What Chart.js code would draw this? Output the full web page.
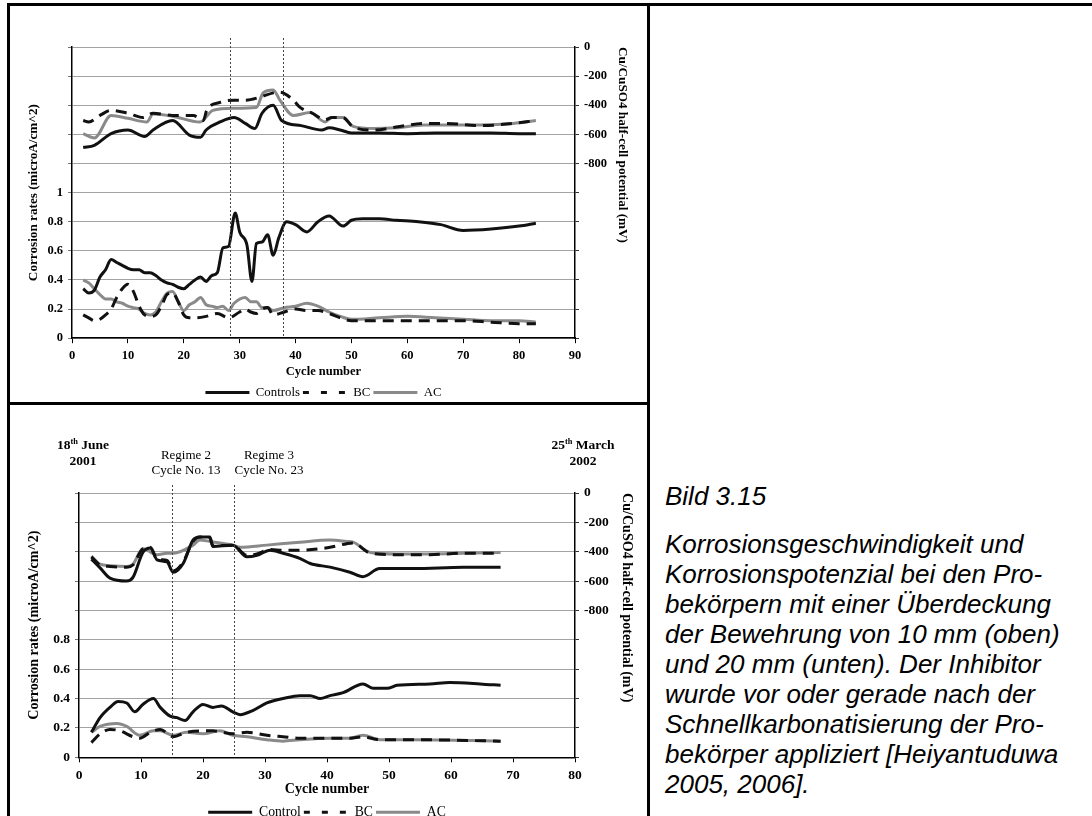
<!DOCTYPE html>
<html lang="de">
<head>
  <meta charset="UTF-8" />
  <title>Bild 3.15 – Korrosionsgeschwindigkeit und Korrosionspotenzial</title>
  <script src="https://cdn.jsdelivr.net/npm/chart.js@4"></script>
  <style>
    html, body {
      margin: 0;
      padding: 0;
      background: #fff;
      overflow: hidden;
    }
    body {
      position: relative;
      width: 1092px;
      height: 816px;
    }
    .rule {
      position: absolute;
      background: #000;
      z-index: 2;
    }
    .box {
      position: absolute;
      left: 10px;
      width: 636px;
    }
    #caption {
      position: absolute;
      left: 665px;
      top: 481px;
      font-family: 'Liberation Sans', Arial, sans-serif;
      font-style: italic;
      font-size: 26px;
      line-height: 30px;
      color: #000;
      white-space: nowrap;
    }
    #caption p { margin: 0; }
    #caption p + p { margin-top: 18px; }
  </style>
</head>
<body>
  <div class="rule" style="left:7px; top:3px; width:1085px; height:3px;"></div>
  <div class="rule" style="left:7px; top:3px; width:3px; height:813px;"></div>
  <div class="rule" style="left:647px; top:3px; width:3px; height:813px;"></div>
  <div class="rule" style="left:7px; top:402px; width:643px; height:3px;"></div>

  <div class="box" style="top:7px; height:402px;"><canvas id="topChart"></canvas></div>
  <div class="box" style="top:405px; height:424px;"><canvas id="bottomChart"></canvas></div>

  <div id="caption">
    <p>Bild 3.15</p>
    <p>Korrosionsgeschwindigkeit und<br>
       Korrosionspotenzial bei den Pro-<br>
       bekörpern mit einer Überdeckung<br>
       der Bewehrung von 10 mm (oben)<br>
       und 20 mm (unten). Der Inhibitor<br>
       wurde vor oder gerade nach der<br>
       Schnellkarbonatisierung der Pro-<br>
       bekörper appliziert [Heiyantuduwa<br>
       2005, 2006].</p>
  </div>

  <script>
    // ---- top chart (10 mm cover) ----
    const topRegimeCycles = [28.3, 37.8];

    const topCtrlRateX = [2,3,4,5,6,7,8,9,10,11,12,13,14,15,16,17,18,19,20,21,22,23,24,25,26,27,28,29.2,30,31.3,32.2,33,34,35,36,37,38.4,40,42,44,46,48.5,50,52,55,58,62,66,70,75,80,83];
    const topCtrlRate  = [0.34,0.31,0.33,0.42,0.47,0.54,0.52,0.50,0.48,0.47,0.47,0.45,0.45,0.43,0.40,0.38,0.37,0.35,0.34,0.37,0.40,0.42,0.39,0.43,0.45,0.62,0.63,0.86,0.73,0.64,0.39,0.65,0.66,0.71,0.57,0.69,0.80,0.78,0.73,0.80,0.84,0.77,0.81,0.82,0.82,0.81,0.80,0.78,0.74,0.75,0.77,0.79];

    const topBcRateX = [2,3,4,5,6,7,8,9,10,11,12,13,14,15,16,17,18,19,20,21,22,24,26,28,30,31,32,33,34,35,36,38,40,42,44,46,48,50,55,60,65,70,75,80,83];
    const topBcRate  = [0.16,0.14,0.12,0.13,0.16,0.20,0.28,0.34,0.37,0.32,0.22,0.16,0.15,0.16,0.22,0.30,0.31,0.25,0.16,0.14,0.14,0.15,0.17,0.14,0.18,0.20,0.18,0.17,0.20,0.21,0.16,0.18,0.20,0.19,0.19,0.17,0.14,0.12,0.12,0.12,0.12,0.12,0.11,0.10,0.10];

    const topAcRateX = [2,3,4,5,6,7,8,9,10,11,12,13,14,15,16,17,18,19,20,21,22,23,24,25,26,27,28,29,31,32,33,34,35,36,38,40,42,44,46,48,50,55,60,65,70,75,80,83];
    const topAcRate  = [0.40,0.38,0.34,0.30,0.27,0.27,0.25,0.24,0.22,0.21,0.20,0.17,0.16,0.18,0.25,0.31,0.32,0.25,0.19,0.23,0.25,0.28,0.23,0.22,0.21,0.22,0.19,0.24,0.28,0.25,0.25,0.21,0.21,0.19,0.21,0.22,0.24,0.22,0.18,0.15,0.13,0.14,0.15,0.14,0.13,0.12,0.12,0.11];

    const topCtrlPotX = [2,4,7,10,13,14.5,18,21,23,24,26.5,29,31,32.7,34,36,37.5,41,44.7,46,48,50,55,60,65,70,75,80,83];
    const topCtrlPot  = [-690,-675,-595,-570,-615,-570,-505,-605,-620,-570,-515,-485,-525,-560,-455,-400,-505,-540,-570,-555,-570,-590,-590,-595,-590,-590,-590,-595,-595];

    const topBcPotX = [2,3,5,7,10,12.7,14.5,18,21.7,23.5,24.1,26.5,29,31,33.6,36,37.2,39.6,40.8,43,45.3,46.5,48.5,50.3,54,58,63,67,73,79,83];
    const topBcPot  = [-505,-515,-470,-435,-455,-485,-455,-470,-470,-505,-435,-380,-365,-365,-345,-315,-310,-365,-415,-455,-500,-485,-485,-550,-570,-550,-525,-525,-540,-525,-505];

    const topAcPotX = [2,4,7,10,13.4,14.5,18,22.9,25.2,28.8,33,34.2,36,37.2,39.6,42.6,45.3,46.5,48.5,50.3,54,58,63,67,73,79,83];
    const topAcPot  = [-595,-625,-470,-490,-515,-460,-475,-515,-435,-420,-415,-315,-295,-365,-470,-450,-515,-485,-485,-545,-560,-555,-535,-535,-535,-525,-505];

    // ---- bottom chart (20 mm cover) ----
    const botRegimeCycles = [15, 25];
    const regimeNames = ['Regime 2', 'Regime 3'];
    const regimeCycleText = ['Cycle No. 13', 'Cycle No. 23'];
    const startDate = ['18', 'th', ' June', '2001'];
    const endDate = ['25', 'th', ' March', '2002'];

    const botCtrlRateX = [2,3.4,5,6.3,7.7,9,10.3,12,13.1,14.7,15.8,17.1,18.4,20,21.6,23,24.8,26,28.1,30.3,32.9,35.6,37.3,38.9,40.5,42.6,45.8,47.4,49.7,51.3,56.6,59.8,64.7,68];
    const botCtrlRate  = [0.17,0.27,0.34,0.38,0.37,0.31,0.36,0.40,0.34,0.28,0.27,0.25,0.31,0.36,0.34,0.35,0.31,0.29,0.32,0.37,0.40,0.42,0.42,0.40,0.42,0.44,0.50,0.47,0.47,0.49,0.50,0.51,0.50,0.49];

    const botBcRateX = [2,3.4,5,6.6,8.7,9.8,11.5,13.1,15.2,17.3,19.5,21.6,24.8,27.1,30.3,32.9,35.6,40.5,43.7,45.8,48.5,54,68];
    const botBcRate  = [0.10,0.16,0.19,0.18,0.14,0.13,0.17,0.19,0.14,0.17,0.18,0.18,0.16,0.17,0.15,0.14,0.13,0.13,0.13,0.14,0.12,0.12,0.11];

    const botAcRateX = [2,3.4,6.1,7.7,9.8,12,13.1,15.2,17.3,20,22.7,24.8,27.1,30.3,32.9,35.6,40.5,43.7,45.8,48.5,54,68];
    const botAcRate  = [0.17,0.21,0.23,0.21,0.15,0.18,0.18,0.15,0.17,0.16,0.18,0.15,0.14,0.12,0.11,0.12,0.13,0.13,0.15,0.12,0.12,0.11];

    const botCtrlPotX = [2,3.4,5,7.7,8.7,10.3,11.5,12.6,14.2,15.2,16.8,18.4,19.5,21.1,21.6,24.8,27.1,28.7,30.8,32.9,35.6,37.3,40.5,43.7,45.8,48.5,54,62,68];
    const botCtrlPot  = [-450,-510,-580,-600,-575,-405,-375,-455,-470,-540,-480,-320,-300,-300,-365,-355,-435,-425,-390,-410,-445,-480,-505,-540,-570,-515,-515,-505,-505];

    const botBcPotX = [2,3.4,5,7.7,8.7,10.3,11.5,12.6,14.2,15.2,16.8,18.4,19.5,21.1,21.6,24.8,27.1,28.7,30.8,32.9,35.6,40.5,43.2,44.2,47,51.3,56.6,62,68];
    const botBcPot  = [-435,-490,-500,-505,-490,-380,-370,-450,-460,-530,-470,-330,-300,-305,-360,-355,-425,-415,-385,-390,-390,-370,-345,-340,-410,-420,-420,-410,-410];

    const botAcPotX = [2,3.4,5,7.7,8.7,10.3,12.6,14.2,15.2,18.4,19.5,21.1,24.8,26,30.3,35.6,40.5,43.2,44.2,47,51.3,56.6,62,68];
    const botAcPot  = [-430,-485,-495,-500,-485,-380,-420,-410,-410,-355,-320,-330,-355,-370,-355,-335,-320,-330,-335,-405,-415,-415,-410,-405];

    const SERIF = "'Liberation Serif', 'Times New Roman', serif";

    const CTRL = { borderColor: '#111', borderWidth: 3 };
    const BC = { borderColor: '#111', borderWidth: 3, borderDash: [11, 7] };
    const AC = { borderColor: '#8a8a8a', borderWidth: 3 };

    function series(label, xs, ys, axis, style) {
      return Object.assign({
        label: label,
        data: xs.map((x, i) => ({ x: x, y: ys[i] })),
        yAxisID: axis,
        pointRadius: 0,
        cubicInterpolationMode: 'monotone',
        fill: false
      }, style);
    }

    // legend samples take the dataset's line style (the default uses the point style)
    function legendLabels(chart) {
      const items = Chart.defaults.plugins.legend.labels.generateLabels(chart);
      return items.map(it => {
        const ds = chart.data.datasets[it.datasetIndex];
        it.strokeStyle = ds.borderColor;
        it.lineWidth = ds.borderWidth;
        it.lineDash = ds.borderDash ? [6, 12] : [];
        return it;
      });
    }

    // dotted regime lines, drawn a bit above the plot area like the original
    const regimeLines = {
      id: 'regimeLines',
      afterDatasetsDraw(chart, args, opts) {
        const { ctx, chartArea, scales } = chart;
        ctx.save();
        ctx.strokeStyle = '#444';
        ctx.lineWidth = 1;
        ctx.setLineDash([2, 2]);
        opts.cycles.forEach(c => {
          const x = Math.round(scales.x.getPixelForValue(c)) + 0.5;
          ctx.beginPath();
          ctx.moveTo(x, opts.top);
          ctx.lineTo(x, chartArea.bottom);
          ctx.stroke();
        });
        ctx.restore();
      }
    };

    // header notes of the lower chart (dates, regimes)
    const headerText = {
      id: 'headerText',
      afterDraw(chart, args, opts) {
        if (!opts.items) return;
        const { ctx } = chart;
        ctx.save();
        ctx.fillStyle = '#000';
        ctx.textBaseline = 'alphabetic';
        opts.items.forEach(item => {
          item.lines.forEach((parts, li) => {
            let total = 0;
            parts.forEach(p => {
              ctx.font = (item.bold ? 'bold ' : '') + (p.sup ? item.size * 0.62 : item.size) + 'px ' + SERIF;
              p.w = ctx.measureText(p.t).width;
              total += p.w;
            });
            let x = item.x - total / 2;
            const y = item.y + li * item.lh;
            parts.forEach(p => {
              ctx.font = (item.bold ? 'bold ' : '') + (p.sup ? item.size * 0.62 : item.size) + 'px ' + SERIF;
              ctx.fillText(p.t, x, p.sup ? y - item.size * 0.38 : y);
              x += p.w;
            });
          });
        });
        ctx.restore();
      }
    };

    function makeOptions(o) {
      return {
        responsive: true,
        maintainAspectRatio: false,
        animation: false,
        layout: { padding: { top: o.padTop, left: 16, right: o.padRight, bottom: 0 } },
        plugins: {
          legend: {
            position: 'bottom',
            fullSize: false,
            labels: {
              usePointStyle: true,
              pointStyle: 'line',
              pointStyleWidth: 44,
              padding: 3,
              color: '#000',
              font: { family: SERIF, size: o.legend },
              generateLabels: legendLabels,
              filter: item => item.datasetIndex < 3
            }
          },
          tooltip: { enabled: false },
          regimeLines: { cycles: o.regimes, top: o.lineTop },
          headerText: { items: o.header }
        },
        scales: {
          x: {
            type: 'linear',
            min: 0,
            max: o.xMax,
            afterFit: s => { s.height = 45; },
            ticks: { stepSize: 10, color: '#000', padding: 5, font: { family: SERIF, weight: 'bold', size: o.tick } },
            grid: { drawOnChartArea: false, tickLength: 5, tickColor: '#000' },
            border: { color: '#000', width: 1.5 },
            title: {
              display: true, text: 'Cycle number', color: '#000',
              font: { family: SERIF, weight: 'bold', size: o.xTitle },
              padding: { top: 0, bottom: o.xTitlePad }
            }
          },
          y: {
            position: 'left',
            min: 0,
            max: o.rateMax,
            afterFit: s => { s.width = o.leftW; },
            ticks: {
              stepSize: 0.2, color: '#000', padding: 5,
              font: { family: SERIF, weight: 'bold', size: o.tick },
              callback: v => v <= o.rateShow + 1e-6 ? String(Math.round(v * 10) / 10) : ''
            },
            grid: { color: '#a3a3a3', lineWidth: 1, tickLength: 4, tickColor: '#777' },
            border: { color: '#000', width: 1.5 },
            title: {
              display: true, text: 'Corrosion rates (microA/cm^2)', color: '#000',
              font: { family: SERIF, weight: 'bold', size: o.yTitle },
              padding: { top: 0, bottom: 0 }
            }
          },
          y2: {
            position: 'right',
            min: o.potMin,
            max: 0,
            afterFit: s => { s.width = o.rightW; },
            ticks: {
              stepSize: 200, color: '#000', padding: 5,
              font: { family: SERIF, weight: 'bold', size: o.tick },
              callback: v => v >= -800 ? String(Math.round(v)) : ''
            },
            grid: { drawOnChartArea: false, tickLength: 4, tickColor: '#333' },
            border: { color: '#000', width: 1.5 },
            title: {
              display: true, align: 'end', text: 'Cu/CuSO4 half-cell potential (mV)', color: '#000',
              font: { family: SERIF, weight: 'bold', size: o.yTitle },
              padding: { top: 0, bottom: 0 }
            }
          }
        }
      };
    }

    new Chart(document.getElementById('topChart'), {
      type: 'line',
      data: {
        datasets: [
          series('Controls', topCtrlRateX, topCtrlRate, 'y', CTRL),
          series('BC', topBcRateX, topBcRate, 'y', BC),
          series('AC', topAcRateX, topAcRate, 'y', AC),
          series('Controls', topCtrlPotX, topCtrlPot, 'y2', CTRL),
          series('BC', topBcPotX, topBcPot, 'y2', BC),
          series('AC', topAcPotX, topAcPot, 'y2', AC)
        ]
      },
      options: makeOptions({
        padTop: 40, padRight: 15.5, leftW: 46, rightW: 55.5,
        xMax: 90, rateMax: 2, rateShow: 1, potMin: -2000,
        tick: 12.5, xTitle: 12.5, xTitlePad: 4, yTitle: 13.2, legend: 12.8,
        regimes: topRegimeCycles, lineTop: 31, header: null
      }),
      plugins: [regimeLines, headerText]
    });

    const headerItems = [
      { x: 73, y: 44, lh: 16, size: 13.5, bold: true,
        lines: [[{ t: startDate[0] }, { t: startDate[1], sup: true }, { t: startDate[2] }], [{ t: startDate[3] }]] },
      { x: 573, y: 44, lh: 16, size: 13.5, bold: true,
        lines: [[{ t: endDate[0] }, { t: endDate[1], sup: true }, { t: endDate[2] }], [{ t: endDate[3] }]] },
      { x: 176, y: 54, lh: 15, size: 13, bold: false,
        lines: [[{ t: regimeNames[0] }], [{ t: regimeCycleText[0] }]] },
      { x: 259, y: 54, lh: 15, size: 13, bold: false,
        lines: [[{ t: regimeNames[1] }], [{ t: regimeCycleText[1] }]] }
    ];

    new Chart(document.getElementById('bottomChart'), {
      type: 'line',
      data: {
        datasets: [
          series('Control', botCtrlRateX, botCtrlRate, 'y', CTRL),
          series('BC', botBcRateX, botBcRate, 'y', BC),
          series('AC', botAcRateX, botAcRate, 'y', AC),
          series('Control', botCtrlPotX, botCtrlPot, 'y2', CTRL),
          series('BC', botBcPotX, botBcPot, 'y2', BC),
          series('AC', botAcPotX, botAcPot, 'y2', AC)
        ]
      },
      options: makeOptions({
        padTop: 88, padRight: 11, leftW: 53, rightW: 60,
        xMax: 80, rateMax: 1.8, rateShow: 0.8, potMin: -1800,
        tick: 13.5, xTitle: 14, xTitlePad: 4.5, yTitle: 14.1, legend: 13.7,
        regimes: botRegimeCycles, lineTop: 80, header: headerItems
      }),
      plugins: [regimeLines, headerText]
    });
  </script>
</body>
</html>
